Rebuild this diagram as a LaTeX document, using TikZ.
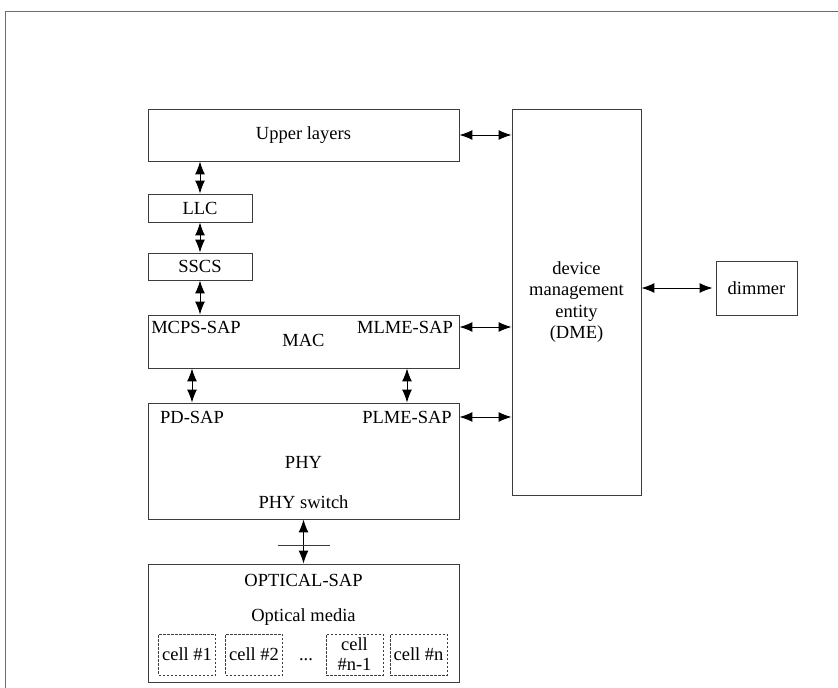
\documentclass[tikz,border=0pt]{standalone}
\usepackage{fontspec}
\setmainfont{Liberation Serif}
\usepackage{tikz}
\usetikzlibrary{arrows.meta, positioning, calc}
\definecolor{boxline}{RGB}{60,60,60}
\definecolor{frameline}{RGB}{110,110,110}

\begin{document}
\begin{tikzpicture}[x=1pt, y=-1pt,
  layer/.style={draw=boxline, line width=0.9pt, inner sep=0pt},
  cellbox/.style={draw=boxline, dash pattern=on 2.5pt off 1.5pt, line width=0.7pt,
    minimum width=57pt, minimum height=41pt, inner sep=0pt, align=center,
    font=\fontsize{18.5}{20}\selectfont},
  lbl/.style={font=\fontsize{18.5}{21.5}\selectfont, inner sep=0pt, align=center},
  link/.style={arrows={Latex[length=13pt,width=10pt]-Latex[length=13pt,width=10pt]}, line width=1pt}]
        \useasboundingbox (0,0) rectangle (838,688);
        % Frame
        \draw[frameline, line width=0.8pt] (5,688) -- (5,11) -- (838,11);
        % Stack of layers
        \node[layer, minimum width=311pt, minimum height=52pt] (upper) at (303.5,135) {};
        \node[layer, minimum width=104pt, minimum height=28pt] (llc) at (200,208) {};
        \node[layer, minimum width=104pt, minimum height=27pt] (sscs) at (200,266.5) {};
        \node[layer, minimum width=311pt, minimum height=53pt] (mac) at (303.5,341.5) {};
        \node[layer, minimum width=311pt, minimum height=116pt] (phy) at (303.5,461) {};
        \node[layer, minimum width=311pt, minimum height=118pt] (optical) at (303.5,623) {};
        % DME and dimmer
        \node[layer, minimum width=129pt, minimum height=386pt] (dme) at (576.5,302) {};
        \node[layer, minimum width=81pt, minimum height=54pt] (dimmer) at (756.5,288) {};
        % Labels
        \node[lbl] (upperlbl) at (303.5,135) {Upper layers};
        \node[lbl] (llclbl) at (200,208) {LLC};
        \node[lbl] (sscslbl) at (200,266.5) {SSCS};
        \node[lbl] (mcps) at (196,327) {MCPS-SAP};
        \node[lbl] (mlme) at (405,327) {MLME-SAP};
        \node[lbl] (maclbl) at (303.5,340) {MAC};
        \node[lbl] (pdsap) at (192,417) {PD-SAP};
        \node[lbl] (plme) at (407,417) {PLME-SAP};
        \node[lbl] (phylbl) at (303.5,462) {PHY};
        \node[lbl] (physwitch) at (303.5,502) {PHY switch};
        \node[lbl] (opticalsap) at (303.5,580) {OPTICAL-SAP};
        \node[lbl] (media) at (303.5,617) {Optical media};
        \node[lbl] (dmelbl) at (576.5,302) {device\\management\\entity\\(DME)};
        \node[lbl] (dimmerlbl) at (756.5,288) {dimmer};
        % Cells
        \node[cellbox] (cell1) at (187,654.5) {cell \#1};
        \node[cellbox] (cell2) at (254,654.5) {cell \#2};
        \node[lbl] (dots) at (306,660) {...};
        \node[cellbox] (celln1) at (354.5,654.5) {cell\\\#n-1};
        \node[cellbox] (celln) at (418.5,654.5) {cell \#n};
        % Vertical links
        \draw[link] (upper.south -| llc) -- (llc.north);
        \draw[link] (llc.south) -- (sscs.north);
        \draw[link] (sscs.south) -- (sscs.south |- mac.north);
        \draw[link] (mac.south -| pdsap) -- (phy.north -| pdsap);
        \draw[link] (mac.south -| plme) -- (phy.north -| plme);
        \draw[link] (phy.south) -- (optical.north);
        \coordinate (bar) at ($(phy.south)!0.6!(optical.north)$);
        \draw[boxline, line width=0.9pt] ([xshift=-26pt]bar) -- ([xshift=26pt]bar);
        % Links to DME
        \draw[link] (upper.east) -- (upper.east -| dme.west);
        \draw[link] (mac.east |- mlme) -- (dme.west |- mlme);
        \draw[link] (phy.east |- plme) -- (dme.west |- plme);
        \draw[link] (dme.east |- dimmer) -- ([xshift=-3pt]dimmer.west);
      \end{tikzpicture}
\end{document}
